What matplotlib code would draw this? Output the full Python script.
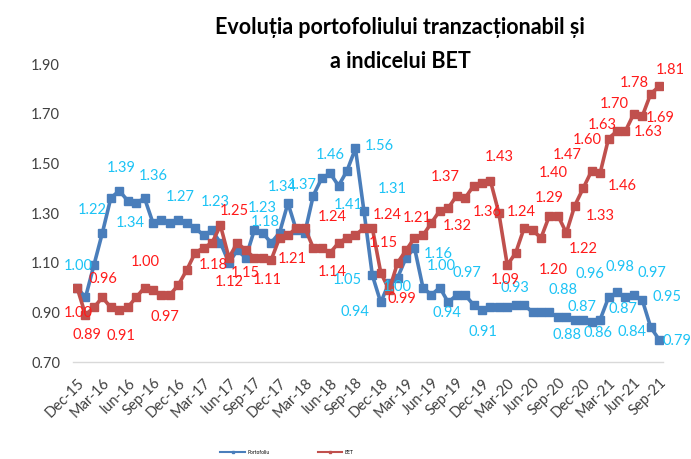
import matplotlib
matplotlib.use("Agg")
import matplotlib.pyplot as plt
from matplotlib.lines import Line2D

plt.rcParams['font.family'] = ['Lato', 'DejaVu Sans']

# monthly values, Dec-15 .. Sep-21
portofoliu = [1.00, 0.96, 1.09, 1.22, 1.36, 1.39, 1.35, 1.34, 1.36, 1.26,
              1.27, 1.26, 1.27, 1.26, 1.24, 1.21, 1.23, 1.18, 1.10, 1.15,
              1.12, 1.23, 1.22, 1.18, 1.22, 1.34, 1.23, 1.22, 1.37, 1.44,
              1.46, 1.41, 1.47, 1.56, 1.31, 1.05, 0.94, 1.02, 1.04, 1.12,
              1.16, 1.00, 0.97, 1.00, 0.94, 0.97, 0.97, 0.93, 0.91, 0.92,
              0.92, 0.92, 0.93, 0.93, 0.90, 0.90, 0.90, 0.88, 0.88, 0.87,
              0.87, 0.86, 0.87, 0.96, 0.98, 0.96, 0.97, 0.95, 0.84, 0.79]
bet = [1.00, 0.89, 0.92, 0.96, 0.92, 0.91, 0.92, 0.96, 1.00, 0.99,
       0.97, 0.97, 1.01, 1.07, 1.14, 1.16, 1.18, 1.25, 1.12, 1.18,
       1.15, 1.12, 1.12, 1.11, 1.20, 1.21, 1.24, 1.24, 1.16, 1.16,
       1.14, 1.18, 1.20, 1.21, 1.24, 1.24, 1.06, 0.99, 1.10, 1.15,
       1.20, 1.21, 1.26, 1.31, 1.32, 1.37, 1.36, 1.41, 1.42, 1.43,
       1.30, 1.09, 1.14, 1.24, 1.23, 1.20, 1.29, 1.29, 1.22, 1.33,
       1.40, 1.47, 1.46, 1.60, 1.63, 1.63, 1.70, 1.69, 1.78, 1.81]

tick_labels = ['Dec-15', 'Mar-16', 'Iun-16', 'Sep-16', 'Dec-16', 'Mar-17',
               'Iun-17', 'Sep-17', 'Dec-17', 'Mar-18', 'Iun-18', 'Sep-18',
               'Dec-18', 'Mar-19', 'Jun-19', 'Sep-19', 'Dec-19', 'Mar-20',
               'Jun-20', 'Sep-20', 'Dec-20', 'Mar-21', 'Jun-21', 'Sep-21']

# data labels as they sit on the original chart: (text, x, y) in data units
labels_port = [('1.00', 0.1, 1.087), ('1.22', 1.8, 1.312), ('1.39', 5.2, 1.481),
               ('1.36', 9.0, 1.449), ('1.34', 6.3, 1.260), ('1.27', 12.2, 1.365),
               ('1.23', 16.4, 1.344), ('1.23', 21.9, 1.320), ('1.18', 22.3, 1.264),
               ('1.34', 24.3, 1.405), ('1.37', 26.7, 1.413), ('1.46', 30.0, 1.534),
               ('1.56', 35.8, 1.570), ('1.41', 32.1, 1.332), ('1.31', 37.4, 1.397),
               ('1.05', 32.0, 1.030), ('0.94', 32.9, 0.901), ('1.00', 37.9, 1.002),
               ('1.16', 42.8, 1.135), ('1.00', 43.2, 1.087), ('0.94', 43.8, 0.897),
               ('0.97', 46.2, 1.058), ('0.91', 48.1, 0.821), ('0.93', 51.9, 0.998),
               ('0.88', 57.6, 0.990), ('0.87', 59.8, 0.922), ('0.88', 58.1, 0.809),
               ('0.86', 61.7, 0.817), ('0.96', 60.8, 1.054), ('0.98', 64.3, 1.083),
               ('0.87', 64.7, 0.913), ('0.97', 68.1, 1.058), ('0.95', 69.9, 0.962),
               ('0.84', 65.8, 0.821), ('0.79', 71.1, 0.785)]
labels_bet = [('1.00', 0.1, 0.897), ('0.96', 3.1, 1.034), ('0.89', 1.2, 0.809),
              ('0.91', 5.2, 0.805), ('1.00', 8.1, 1.103), ('0.97', 10.4, 0.881),
              ('1.18', 16.1, 1.091), ('1.25', 18.6, 1.308), ('1.12', 18.1, 1.022),
              ('1.15', 19.9, 1.058), ('1.11', 22.6, 1.030), ('1.21', 25.5, 1.115),
              ('1.24', 30.3, 1.284), ('1.14', 30.2, 1.062), ('1.24', 36.8, 1.292),
              ('1.15', 36.3, 1.179), ('0.99', 38.5, 0.954), ('1.21', 40.3, 1.280),
              ('1.37', 43.6, 1.445), ('1.32', 45.1, 1.248), ('1.43', 50.1, 1.526),
              ('1.36', 48.6, 1.304), ('1.24', 52.7, 1.304), ('1.09', 50.7, 1.030),
              ('1.29', 56.0, 1.360), ('1.40', 56.4, 1.461), ('1.47', 58.1, 1.534),
              ('1.20', 56.4, 1.071), ('1.22', 60.0, 1.155), ('1.33', 62.0, 1.288),
              ('1.46', 64.6, 1.409), ('1.60', 60.5, 1.594), ('1.63', 62.2, 1.654),
              ('1.70', 63.7, 1.739), ('1.63', 67.7, 1.626), ('1.69', 69.1, 1.683),
              ('1.78', 66.1, 1.824), ('1.81', 70.3, 1.876)]

BLUE = '#4a7ebb'
RED = '#c0504d'
BLUE_TXT = '#1cc3f5'
RED_TXT = '#ff1a1a'

fig = plt.figure(figsize=(6.91, 4.59), dpi=100)
ax = fig.add_axes([0.1054, 0.2113, 0.8546, 0.6492])

x = list(range(len(bet)))
ax.plot(x, portofoliu, color=BLUE, lw=2.6, marker='s', ms=5.2, zorder=2)
ax.plot(x, bet, color=RED, lw=2.6, marker='s', ms=5.2, zorder=3)

for txt, lx, ly in labels_port:
    ax.text(lx, ly, txt, color=BLUE_TXT, fontsize=10.5, ha='center', va='center',
            zorder=4, clip_on=False)
for txt, lx, ly in labels_bet:
    ax.text(lx, ly, txt, color=RED_TXT, fontsize=10.5, ha='center', va='center',
            zorder=4, clip_on=False)

ax.set_xlim(-0.5, len(bet) - 0.5)
ax.set_ylim(0.70, 1.90)
yt = [0.70, 0.90, 1.10, 1.30, 1.50, 1.70, 1.90]
ax.set_yticks(yt)
ax.set_yticklabels(['%.2f' % v for v in yt])
ax.set_xticks(range(0, len(bet), 3))
ax.set_xticklabels(tick_labels, rotation=45, ha='right', va='top',
                   rotation_mode='anchor')
ax.tick_params(axis='y', length=0, pad=30, labelsize=10.5, labelcolor='#404040')
ax.tick_params(axis='x', length=0, pad=10, labelsize=10.5, labelcolor='#404040')
for lbl in ax.get_yticklabels():
    lbl.set_ha('left')
for side in ['top', 'right', 'left']:
    ax.spines[side].set_visible(False)
ax.spines['bottom'].set_color('#d9d9d9')
ax.spines['bottom'].set_linewidth(1)

fig.text(400 / 691, 1 - 27 / 459, 'Evoluția portofoliului tranzacționabil și',
         ha='center', va='center', fontsize=15.5, fontweight='bold')
fig.text(400 / 691, 1 - 62 / 459, 'a indicelui BET',
         ha='center', va='center', fontsize=15.5, fontweight='bold')

handles = [Line2D([], [], color=BLUE, lw=1.5, marker='s', ms=2),
           Line2D([], [], color=RED, lw=1.5, marker='s', ms=2)]
fig.legend(handles, ['Portofoliu', 'BET'], loc='center', ncol=2,
           bbox_to_anchor=(287 / 691, 1 - 452 / 459), fontsize=3.5,
           frameon=False, handlelength=5, columnspacing=10, handletextpad=0.5)

fig.savefig('out.png', dpi=100)
